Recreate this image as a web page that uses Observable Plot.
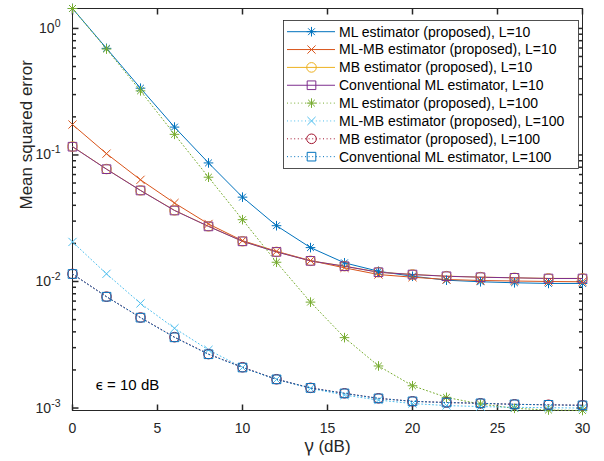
<!DOCTYPE html>
<html><head><meta charset="utf-8">
<script src="https://cdn.jsdelivr.net/npm/d3@7"></script>
<script src="https://cdn.jsdelivr.net/npm/@observablehq/plot@0.6"></script>
<style>
html,body{margin:0;padding:0;background:#fff;}
#chart{position:relative;width:604px;height:461px;}
</style>
</head><body><div id="chart"></div>
<script>
// ---- data ----
const gamma = [0,2,4,6,8,10,12,14,16,18,20,22,24,26,28,30];
const mlL10    = [1.437,0.696,0.337,0.166,0.0865,0.0464,0.0276,0.01853,0.01404,0.01205,0.0110,0.01024,0.00995,0.00977,0.00965,0.00965];
const mlmbL10  = [0.1739,0.1024,0.0636,0.0417,0.0285,0.02103,0.01732,0.01463,0.01282,0.01135,0.01081,0.01037,0.01018,0.01009,0.0100,0.00995];
const mbL10    = [0.1165,0.0774,0.0525,0.0365,0.02730,0.02080,0.01715,0.01457,0.01322,0.01185,0.01137,0.01102,0.01083,0.01070,0.01058,0.01058];
const convL10  = [0.1162,0.0772,0.0524,0.0364,0.02725,0.02077,0.01713,0.01455,0.0132,0.01183,0.01135,0.0110,0.01081,0.01069,0.01056,0.01056];
const mlL100   = [1.437,0.687,0.321,0.1455,0.0667,0.0308,0.01419,0.00687,0.0036,0.00215,0.0015,0.001214,0.001075,0.000995,0.000964,0.000956];
const mlmbL100 = [0.02054,0.0115,0.00671,0.00427,0.00288,0.00209,0.00168,0.00143,0.001266,0.001156,0.001085,0.001046,0.001027,0.001013,0.001006,0.0010];
const mbL100   = [0.01148,0.00759,0.00519,0.00363,0.00267,0.00210,0.001688,0.001444,0.001307,0.001193,0.00113,0.001106,0.00109,0.00107,0.001061,0.001051];
const convL100 = [0.01146,0.00758,0.00518,0.00362,0.00266,0.00209,0.001686,0.001442,0.001305,0.001192,0.001129,0.001105,0.001089,0.001069,0.00106,0.00105];

const seriesNames = [
  "ML estimator (proposed), L=10",
  "ML-MB estimator (proposed), L=10",
  "MB estimator (proposed), L=10",
  "Conventional ML estimator, L=10",
  "ML estimator (proposed), L=100",
  "ML-MB estimator (proposed), L=100",
  "MB estimator (proposed), L=100",
  "Conventional ML estimator, L=100"
];
const seriesValues = [mlL10, mlmbL10, mbL10, convL10, mlL100, mlmbL100, mbL100, convL100];
const seriesColors = ["#0072BD","#D95319","#EDB120","#7E2F8E","#77AC30","#4DBEEE","#A2142F","#0072BD"];
const seriesMarkers = ["asterisk","times","circle","square","asterisk","times","circle","square"];
const seriesDotted = [false,false,false,false,true,true,true,true];

const xTicks = [0,5,10,15,20,25,30];
const yTicks = [1e-3,1e-2,1e-1,1];
const yMinorTicks = [];
[1e-3,1e-2,1e-1].forEach(b => { for (let k = 2; k <= 9; k++) yMinorTicks.push(+(b*k).toPrecision(3)); });
const xLabelSymbol = "γ", xLabelRest = " (dB)";
const yLabel = "Mean squared error";
const annSymbol = "ϵ", annRest = " = 10 dB";

// ---- symbols (MATLAB-like markers) ----
const SYM = {
  asterisk: {draw(c,s){const h=Math.sqrt(s/Math.PI), d=h*Math.SQRT1_2;
    c.moveTo(-h,0);c.lineTo(h,0);c.moveTo(0,-h);c.lineTo(0,h);
    c.moveTo(-d,-d);c.lineTo(d,d);c.moveTo(-d,d);c.lineTo(d,-d);}},
  times: {draw(c,s){const h=Math.sqrt(s/Math.PI)*0.85;
    c.moveTo(-h,-h);c.lineTo(h,h);c.moveTo(-h,h);c.lineTo(h,-h);}},
  circle: {draw(c,s){const r=Math.sqrt(s/Math.PI); c.moveTo(r,0); c.arc(0,0,r,0,2*Math.PI);}},
  square: {draw(c,s){const h=Math.sqrt(s/Math.PI)*0.9; c.rect(-h,-h,2*h,2*h);}}
};
const tickSym = (dx, dy) => ({draw(c){c.moveTo(0,0); c.lineTo(dx,dy);}});
const R = 4.8;
const dash = "1,2.6";
const axisColor = "#262626";
const fontFam = "'Liberation Sans', Arial, Helvetica, sans-serif";
const mathFam = "'Noto Sans', 'Liberation Serif', 'DejaVu Serif', serif";

// long-form rows
const rows = [];
seriesValues.forEach((vals, s) => vals.forEach((v, i) => rows.push({s, g: gamma[i], v})));
const yAll = rows.map(d => d.v);
const yDomain = [d3.min(yAll), d3.max(yAll)];

const seriesMarks = [];
seriesNames.forEach((name, s) => {
  const data = rows.filter(d => d.s === s);
  seriesMarks.push(Plot.line(data, {x: "g", y: "v", stroke: seriesColors[s], strokeWidth: 1,
    strokeDasharray: seriesDotted[s] ? dash : null}));
});
seriesNames.forEach((name, s) => {
  const data = rows.filter(d => d.s === s);
  seriesMarks.push(Plot.dot(data, {x: "g", y: "v", symbol: SYM[seriesMarkers[s]], r: R,
    stroke: seriesColors[s], fill: "none", strokeWidth: 1}));
});

const plot = Plot.plot({
  width: 604, height: 461,
  marginLeft: 72, marginRight: 22, marginTop: 8, marginBottom: 51,
  style: {fontFamily: fontFam, fontSize: "14px", color: axisColor, background: "#fff", overflow: "visible"},
  x: {domain: [0, 30]},
  y: {type: "log", domain: yDomain},
  marks: [
    Plot.frame({stroke: axisColor, strokeWidth: 1}),
    Plot.axisX({ticks: xTicks, tickSize: 0, tickPadding: 12.5, label: null, fontSize: 14}),
    Plot.axisY({ticks: yTicks, tickSize: 0, tickPadding: 12, label: null, fontSize: 14,
      tickFormat: d => String(Math.round(Math.log10(d)))}),
    // inward ticks on all four sides
    Plot.dot(xTicks, {x: d => d, frameAnchor: "bottom", symbol: tickSym(0,-6), stroke: axisColor, fill: "none"}),
    Plot.dot(xTicks, {x: d => d, frameAnchor: "top", symbol: tickSym(0,6), stroke: axisColor, fill: "none"}),
    Plot.dot(yTicks, {y: d => d, frameAnchor: "left", symbol: tickSym(6,0), stroke: axisColor, fill: "none"}),
    Plot.dot(yTicks, {y: d => d, frameAnchor: "right", symbol: tickSym(-6,0), stroke: axisColor, fill: "none"}),
    Plot.dot(yMinorTicks, {y: d => d, frameAnchor: "left", symbol: tickSym(3.5,0), stroke: axisColor, fill: "none"}),
    Plot.dot(yMinorTicks, {y: d => d, frameAnchor: "right", symbol: tickSym(-3.5,0), stroke: axisColor, fill: "none"}),
    // axis titles & annotation
    Plot.text([xLabelSymbol + xLabelRest], {text: d => d, frameAnchor: "bottom", dy: 36, lineAnchor: "middle", fontSize: 17, fill: axisColor}),
    Plot.text([yLabel], {text: d => d, frameAnchor: "left", dx: -46, rotate: -90, lineAnchor: "middle", fontSize: 17, fill: axisColor}),
    Plot.text([annSymbol + annRest], {text: d => d, frameAnchor: "bottom-left", dx: 23, dy: -25.5, textAnchor: "start", lineAnchor: "middle", fontSize: 15, fill: "#000"}),
    ...seriesMarks
  ]
});

const svg = d3.select(plot);
// superscript exponents on the log-axis labels
svg.selectAll('g[aria-label="y-axis tick label"] text').each(function() {
  const t = d3.select(this);
  const e = t.text();
  t.text(null);
  t.append("tspan").text("10");
  t.append("tspan").attr("dy", "-6").attr("font-size", "10.5px").text(e);
});
// TeX-like greek symbols
function greek(sym, rest, symSize) {
  svg.selectAll("text").filter(function() { return this.textContent === sym + rest; }).each(function() {
    const t = d3.select(this);
    t.text(null);
    t.append("tspan").attr("font-family", mathFam).attr("font-size", symSize).text(sym);
    t.append("tspan").text(rest);
  });
}
greek(xLabelSymbol, xLabelRest, "18px");
greek(annSymbol, annRest, "15px");

// legend (MATLAB style, inside the axes)
const lg = svg.append("g").attr("font-family", fontFam).attr("font-size", 14).attr("text-anchor", "start");
lg.append("rect").attr("x", 283.5).attr("y", 20.5).attr("width", 295).attr("height", 148)
  .attr("fill", "#fff").attr("stroke", axisColor).attr("stroke-width", 0.8);
seriesNames.forEach((name, s) => {
  const cy = 31.7 + s * 17.85;
  lg.append("line").attr("x1", 287).attr("x2", 335).attr("y1", cy).attr("y2", cy)
    .attr("stroke", seriesColors[s]).attr("stroke-width", 1)
    .attr("stroke-dasharray", seriesDotted[s] ? dash : null);
  lg.append("path").attr("transform", `translate(311.5,${cy})`)
    .attr("d", d3.symbol(SYM[seriesMarkers[s]], Math.PI * R * R)())
    .attr("fill", "none").attr("stroke", seriesColors[s]).attr("stroke-width", 1);
  lg.append("text").attr("x", 339).attr("y", cy).attr("dy", "0.35em")
    .attr("text-anchor", "start").attr("fill", "#000").text(name);
});

document.getElementById("chart").append(plot);
</script>
</body></html>
